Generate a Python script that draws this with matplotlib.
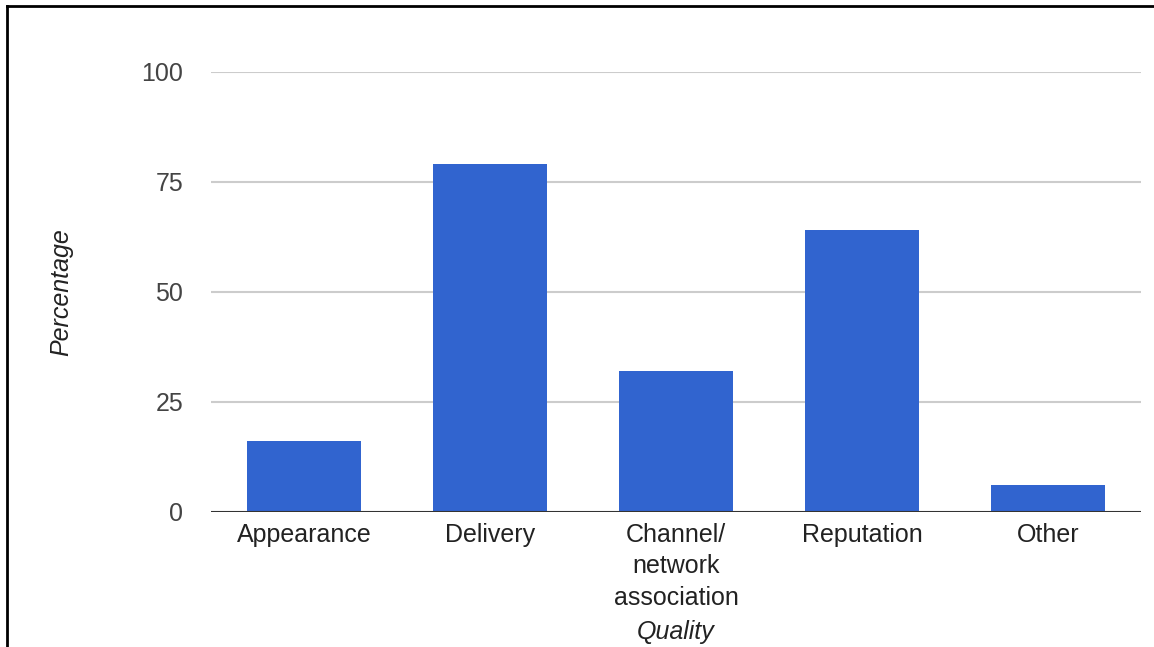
import matplotlib
matplotlib.use('Agg')
import matplotlib.pyplot as plt
from matplotlib.lines import Line2D

categories = ['Appearance', 'Delivery', 'Channel/\nnetwork\nassociation', 'Reputation', 'Other']
percentages = [16, 79, 32, 64, 6]
yticks = [0, 25, 50, 75, 100]

plt.rcParams['font.family'] = ['Liberation Sans', 'DejaVu Sans']

fig = plt.figure(figsize=(11.54, 6.47), dpi=100)
ax = fig.add_axes([211 / 1154, 1 - 511.5 / 647, 930 / 1154, 439.5 / 647])

x = range(len(categories))
ax.bar(x, percentages, width=0.615, color='#3164cf', zorder=3)

ax.set_xlim(-0.5, len(categories) - 0.5)
ax.set_ylim(0, 100)
ax.set_yticks(yticks)
ax.set_xticks(list(x))
ax.set_xticklabels(categories, linespacing=1.4)

ax.grid(axis='y', color='#cccccc', linewidth=1.5, zorder=0)
ax.axhline(0, color='#333333', linewidth=2.2, zorder=4)
for s in ax.spines.values():
    s.set_visible(False)

ax.tick_params(axis='both', length=0)
ax.tick_params(axis='y', labelsize=18, labelcolor='#444444', pad=20)
ax.tick_params(axis='x', labelsize=18, labelcolor='#222222', pad=8)

ax.set_ylabel('Percentage', fontsize=18, style='italic', color='#222222')
ax.yaxis.set_label_coords(-138 / 930, 0.5)
ax.set_xlabel('Quality', fontsize=18, style='italic', color='#222222')
ax.xaxis.set_label_coords(0.5, -109 / 439.5)

# frame lines along the top and left edge
fig.add_artist(Line2D([6.5 / 1154, 1], [1 - 6 / 647, 1 - 6 / 647], color='black', linewidth=2))
fig.add_artist(Line2D([6.5 / 1154, 6.5 / 1154], [0, 1 - 6 / 647], color='black', linewidth=2))

fig.savefig('out.png', dpi=100)
